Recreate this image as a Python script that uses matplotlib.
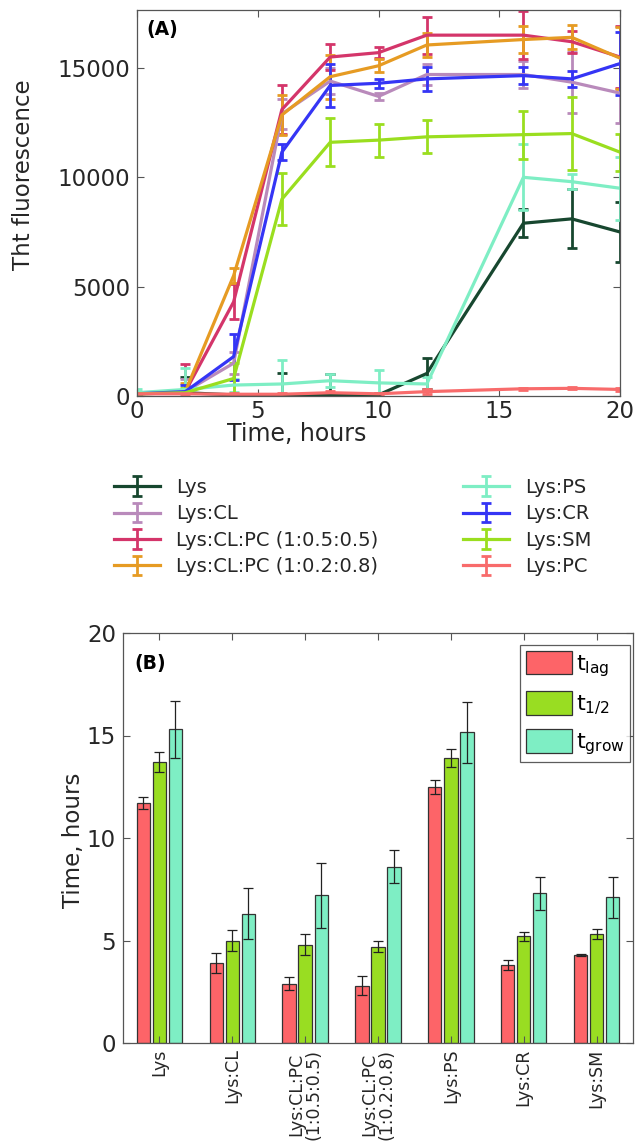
import matplotlib
matplotlib.use('Agg')
import matplotlib.pyplot as plt
import numpy as np

plt.rcParams['font.family'] = ['DejaVu Sans']
plt.rcParams['mathtext.fontset'] = 'dejavusans'

# ---------------- Panel A data ----------------
time_h = [0, 2, 4, 6, 8, 10, 12, 16, 18, 20]

series_names = ['Lys', 'Lys:CL', 'Lys:CL:PC (1:0.5:0.5)', 'Lys:CL:PC (1:0.2:0.8)',
                'Lys:PS', 'Lys:CR', 'Lys:SM', 'Lys:PC']

lys = [100, 150, 50, 50, 50, 50, 1030, 7900, 8100, 7500]
lys_err = [50, 700, 50, 1000, 950, 100, 700, 650, 1350, 1350]

lys_cl = [150, 200, 1500, 12900, 14400, 13700, 14700, 14700, 14350, 13850]
lys_cl_err = [50, 600, 500, 700, 600, 150, 500, 600, 1400, 1350]

lys_cl_pc1 = [100, 200, 4300, 13100, 15500, 15700, 16500, 16500, 16200, 15500]
lys_cl_pc1_err = [50, 1250, 800, 1100, 600, 250, 850, 1100, 500, 1400]

lys_cl_pc2 = [100, 200, 5500, 12850, 14600, 15100, 16050, 16300, 16400, 15450]
lys_cl_pc2_err = [50, 400, 350, 900, 1000, 300, 550, 600, 550, 1400]

lys_ps = [150, 300, 500, 550, 700, 600, 550, 10000, 9800, 9500]
lys_ps_err = [150, 1000, 300, 1100, 300, 600, 300, 1500, 350, 1450]

lys_cr = [100, 200, 1800, 11150, 14200, 14300, 14500, 14650, 14500, 15200]
lys_cr_err = [50, 300, 1050, 350, 1000, 200, 550, 400, 350, 1450]

lys_sm = [100, 150, 800, 9000, 11600, 11700, 11850, 11950, 12000, 11150]
lys_sm_err = [50, 200, 700, 1200, 1100, 750, 750, 1100, 1650, 850]

lys_pc = [100, 100, 80, 80, 150, 100, 200, 330, 350, 300]
lys_pc_err = [50, 50, 50, 50, 100, 50, 100, 50, 50, 80]

series_values = [lys, lys_cl, lys_cl_pc1, lys_cl_pc2, lys_ps, lys_cr, lys_sm, lys_pc]
series_errors = [lys_err, lys_cl_err, lys_cl_pc1_err, lys_cl_pc2_err, lys_ps_err,
                 lys_cr_err, lys_sm_err, lys_pc_err]
series_colors = ['#17472f', '#b98abb', '#d4356a', '#e69b23',
                 '#7eeec4', '#3535f5', '#9ade1f', '#f86b6b']

# ---------------- Panel B data ----------------
categories = ['Lys', 'Lys:CL', 'Lys:CL:PC\n(1:0.5:0.5)', 'Lys:CL:PC\n(1:0.2:0.8)',
              'Lys:PS', 'Lys:CR', 'Lys:SM']
t_lag = [11.7, 3.9, 2.9, 2.8, 12.5, 3.8, 4.3]
t_lag_err = [0.3, 0.5, 0.33, 0.45, 0.35, 0.25, 0.05]
t_half = [13.7, 5.0, 4.8, 4.7, 13.9, 5.2, 5.3]
t_half_err = [0.5, 0.5, 0.5, 0.27, 0.45, 0.2, 0.25]
t_grow = [15.3, 6.3, 7.2, 8.6, 15.15, 7.3, 7.1]
t_grow_err = [1.4, 1.25, 1.6, 0.8, 1.5, 0.8, 1.0]
bar_labels = [r'$\mathrm{t_{lag}}$', r'$\mathrm{t_{1/2}}$', r'$\mathrm{t_{grow}}$']
bar_colors = ['#fd6468', '#99dd22', '#7eeec4']

W, H = 635, 1142
fig = plt.figure(figsize=(W / 100, H / 100), dpi=100)

def fbox(l, t, r, b):
    return [l / W, 1 - b / H, (r - l) / W, (b - t) / H]

spine_c = '#555555'
text_c = '#262626'
FS = 16.5

# ---------------- Panel A ----------------
axA = fig.add_axes(fbox(137, 10, 620, 396))
handles = []
for name, vals, errs, col in zip(series_names, series_values, series_errors, series_colors):
    h = axA.errorbar(time_h, vals, yerr=errs, color=col, lw=2.3, elinewidth=2.0,
                     capsize=3.8, capthick=2.0, label=name, clip_on=True)
    handles.append(h)
axA.set_xlim(0, 20)
axA.set_ylim(0, 17650)
axA.set_xticks([0, 5, 10, 15, 20])
axA.set_yticks([0, 5000, 10000, 15000])
axA.tick_params(direction='in', top=True, right=True, length=5, width=0.8,
                labelsize=FS, colors=spine_c, labelcolor=text_c, pad=5)
axA.tick_params(axis='x', pad=3)
for s in axA.spines.values():
    s.set_color(spine_c)
    s.set_linewidth(0.9)
axA.set_xlabel('Time, hours', fontsize=FS + 0.5, color=text_c)
axA.xaxis.set_label_coords((297 - 137) / 483, -0.068)
axA.set_ylabel('Tht fluorescence', fontsize=FS, color=text_c)
axA.yaxis.set_label_coords(-0.212, 0.573)
axA.text(0.02, 0.975, '(A)', transform=axA.transAxes, fontsize=13.5,
         fontweight='bold', va='top', ha='left', color='black')

leg_kw = dict(frameon=False, fontsize=14, handlelength=2.35, handletextpad=0.85,
              labelspacing=0.38, borderpad=0, borderaxespad=0, loc='upper left',
              labelcolor=text_c)
fig.legend(handles[:4], series_names[:4], bbox_to_anchor=(114 / W, 1 - 478 / H), **leg_kw)
fig.legend(handles[4:], series_names[4:], bbox_to_anchor=(463 / W, 1 - 478 / H), **leg_kw)

# ---------------- Panel B ----------------
axB = fig.add_axes(fbox(123, 633, 633, 1043))
x = np.arange(1, len(categories) + 1)
bw = 0.183
off = 0.22
for i, (vals, errs, col, lab) in enumerate(zip([t_lag, t_half, t_grow],
                                                [t_lag_err, t_half_err, t_grow_err],
                                                bar_colors, bar_labels)):
    axB.bar(x + (i - 1) * off, vals, width=bw, color=col, edgecolor='#333333',
            linewidth=0.9, label=lab,
            yerr=errs, error_kw=dict(ecolor='#222222', elinewidth=0.9, capsize=3.5, capthick=0.9))
axB.set_xlim(0.5, 7.5)
axB.set_ylim(0, 20)
axB.set_yticks([0, 5, 10, 15, 20])
axB.set_xticks(x)
axB.set_xticklabels(categories, rotation=90, color=text_c, linespacing=0.95)
axB.tick_params(direction='in', top=True, right=True, length=5, width=0.8,
                labelsize=FS, colors=spine_c, labelcolor=text_c, pad=5)
axB.tick_params(axis='x', labelsize=12.5, pad=4)
for s in axB.spines.values():
    s.set_color(spine_c)
    s.set_linewidth(0.9)
axB.set_ylabel('Time, hours', fontsize=FS, color=text_c)
axB.yaxis.set_label_coords(-0.075, 0.495)
axB.text(0.022, 0.95, '(B)', transform=axB.transAxes, fontsize=13.5,
         fontweight='bold', va='top', ha='left', color='black')
lg = axB.legend(loc='upper right', bbox_to_anchor=(630 / W, 1 - 645 / H),
                bbox_transform=fig.transFigure, fontsize=16, frameon=True, fancybox=False,
                edgecolor='#333333', handlelength=2.1, handleheight=1.27,
                handletextpad=0.15, labelspacing=0.55, borderpad=0.25,
                borderaxespad=0)
lg.get_frame().set_linewidth(0.9)

fig.savefig('out.png', dpi=100)
